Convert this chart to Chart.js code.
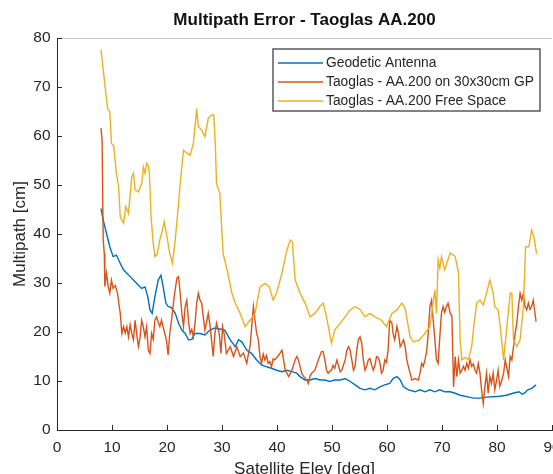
<!DOCTYPE html>
<html>
<head>
<meta charset="utf-8">
<script src="https://cdn.jsdelivr.net/npm/chart.js@4"></script>
<style>
  html, body { margin: 0; padding: 0; background: #fff; }
  canvas { display: block; }
</style>
</head>
<body>
<canvas id="mpChart" width="553" height="474"></canvas>
<script>
// multipath error vs elevation

const seriesNames = ['Geodetic Antenna', 'Taoglas - AA.200 on 30x30cm GP', 'Taoglas - AA.200 Free Space'];
const seriesColors = ['#0072BD', '#D95319', '#EDB120'];

const xTicks = [0, 10, 20, 30, 40, 50, 60, 70, 80, 90];
const yTicks = [0, 10, 20, 30, 40, 50, 60, 70, 80];

// Geodetic antenna
const geoElev = [8.0, 8.4, 9.0, 9.6, 10.2, 10.8, 11.5, 12.1, 12.7, 13.3, 13.9, 14.5, 15.4, 16.0, 16.5, 16.9, 17.3, 17.8, 18.4, 18.9,
  19.3, 19.8, 20.2, 20.8, 21.5, 22.1, 22.7, 23.3, 23.9, 24.5, 25.1, 26.0, 26.9, 27.8, 28.7, 29.6, 30.5, 31.5, 32.4, 33.0,
  33.6, 34.5, 35.4, 36.3, 37.2, 38.1, 39.0, 39.9, 40.9, 41.8, 42.7, 43.6, 44.2, 45.1, 46.0, 46.9, 47.8, 48.7, 49.6, 50.5,
  51.5, 52.4, 53.3, 54.2, 55.1, 56.0, 56.9, 57.8, 58.7, 59.6, 60.5, 61.1, 61.8, 62.4, 63.0, 63.9, 65.1, 66.0, 66.9, 67.8,
  68.7, 69.6, 70.5, 71.5, 72.4, 73.3, 74.5, 75.7, 76.9, 78.1, 79.3, 80.5, 81.7, 82.9, 84.0, 84.6, 85.0, 85.6, 86.3, 87.1];
const geoMp = [45.2, 42.9, 40.1, 37.4, 35.4, 35.7, 34.0, 32.7, 32.0, 31.3, 30.6, 29.9, 28.9, 29.2, 27.2, 24.5, 23.8, 27.2, 30.6, 31.6,
  29.2, 25.9, 25.2, 25.0, 23.8, 21.8, 20.4, 19.7, 18.4, 18.5, 19.7, 19.7, 19.4, 20.4, 20.8, 20.6, 20.4, 18.4, 17.0, 18.4,
  18.0, 16.3, 15.6, 14.3, 13.3, 12.9, 12.6, 12.2, 11.9, 12.2, 11.9, 11.6, 10.9, 10.2, 10.2, 10.5, 10.2, 10.2, 9.9, 10.2,
  10.2, 10.5, 9.9, 9.2, 8.5, 8.2, 8.5, 8.2, 8.8, 9.2, 9.5, 10.5, 10.9, 10.2, 8.8, 8.2, 7.8, 8.2, 7.8, 8.2,
  7.8, 8.2, 7.8, 7.8, 7.5, 7.1, 6.8, 6.5, 6.5, 6.7, 6.8, 6.9, 7.1, 7.5, 7.8, 7.3, 7.5, 8.2, 8.5, 9.2];

// AA.200 on 30x30cm ground plane
const gpElev = [8.0, 8.2, 8.4, 8.6, 8.7, 9.0, 9.3, 9.6, 9.9, 10.2, 10.6, 11.0, 11.5, 11.8, 12.1, 12.4, 12.7, 13.0, 13.3, 13.6,
  13.9, 14.2, 14.5, 14.8, 15.1, 15.4, 15.7, 16.0, 16.3, 16.6, 16.9, 17.2, 17.5, 17.8, 18.1, 18.4, 18.7, 19.0, 19.3, 19.6,
  19.9, 20.2, 20.5, 20.9, 21.3, 21.8, 22.1, 22.4, 22.7, 23.0, 23.3, 23.6, 23.9, 24.2, 24.5, 24.8, 25.1, 25.4, 25.7, 26.0,
  26.3, 26.6, 26.9, 27.2, 27.5, 27.8, 28.1, 28.4, 28.7, 29.0, 29.5, 29.8, 30.1, 30.4, 30.8, 31.5, 32.1, 32.7, 33.3, 33.9,
  34.5, 34.8, 35.1, 35.4, 35.7, 36.0, 36.3, 36.6, 36.9, 37.2, 37.5, 37.8, 38.1, 38.4, 38.7, 39.0, 39.3, 39.6, 40.1, 40.5,
  40.9, 41.2, 41.5, 41.8, 42.1, 42.4, 42.7, 43.3, 43.6, 43.9, 44.2, 44.5, 44.8, 45.4, 45.7, 46.0, 46.3, 46.9, 47.5, 48.1,
  48.4, 48.7, 49.0, 49.3, 49.6, 49.9, 50.2, 50.5, 50.9, 51.2, 51.5, 51.8, 52.1, 52.4, 52.7, 53.0, 53.3, 53.6, 53.9, 54.2,
  54.5, 54.8, 55.1, 55.4, 55.7, 56.0, 56.3, 56.6, 56.9, 57.2, 57.5, 57.8, 58.1, 58.4, 58.7, 59.0, 59.3, 59.6, 59.9, 60.2,
  60.5, 60.9, 61.1, 61.4, 61.8, 62.1, 62.4, 62.7, 63.0, 63.3, 63.6, 63.9, 64.2, 64.5, 65.1, 65.7, 66.0, 66.3, 66.6, 66.9,
  67.2, 67.5, 67.8, 68.1, 68.4, 68.7, 69.0, 69.3, 69.6, 69.9, 70.2, 70.5, 70.8, 71.1, 71.5, 71.8, 72.1, 72.4, 72.7, 73.0,
  73.3, 73.6, 73.9, 74.2, 74.5, 74.8, 75.1, 75.4, 75.7, 76.0, 76.3, 76.6, 76.9, 77.2, 77.5, 77.8, 78.1, 78.4, 78.7, 79.0,
  79.3, 79.6, 79.9, 80.2, 80.5, 80.9, 81.2, 81.5, 81.8, 82.1, 82.4, 82.7, 83.0, 83.3, 83.6, 83.9, 84.2, 84.5, 84.8, 85.1,
  85.4, 85.7, 86.0, 86.3, 86.6, 86.9, 87.1];
const gpMp = [61.6, 59.0, 38.8, 36.0, 29.3, 32.0, 29.3, 27.9, 30.6, 28.9, 29.5, 27.9, 23.8, 19.7, 21.1, 19.8, 21.1, 19.0, 21.5, 19.7,
  18.4, 22.4, 19.5, 17.0, 18.8, 22.4, 21.0, 19.0, 21.1, 16.3, 15.6, 19.7, 18.5, 22.4, 23.1, 22.0, 21.1, 22.4, 21.0, 19.7,
  18.3, 15.3, 19.7, 23.1, 27.2, 31.0, 31.3, 27.9, 23.8, 21.1, 25.2, 26.5, 22.4, 19.7, 20.5, 19.0, 21.8, 25.9, 27.9, 26.5,
  25.9, 23.1, 20.4, 22.0, 23.8, 21.5, 18.4, 15.0, 19.5, 21.8, 19.7, 15.6, 21.1, 19.5, 15.6, 17.0, 15.0, 17.0, 15.0, 15.7,
  13.6, 15.5, 17.0, 21.1, 25.2, 22.4, 19.7, 18.5, 15.0, 13.6, 15.5, 14.3, 15.2, 13.6, 14.0, 12.9, 14.5, 14.3, 15.0, 15.6,
  16.3, 14.3, 12.2, 11.6, 10.9, 11.5, 12.2, 14.3, 15.0, 14.3, 12.9, 11.6, 11.0, 10.2, 9.5, 11.0, 11.6, 12.2, 14.3, 16.0,
  16.0, 14.3, 12.2, 11.6, 12.0, 12.2, 13.2, 12.6, 14.3, 13.0, 11.9, 12.2, 13.3, 14.3, 16.3, 17.0, 16.3, 14.3, 12.2, 13.0,
  16.3, 18.4, 19.0, 17.8, 14.3, 12.2, 13.0, 14.3, 14.6, 13.3, 12.2, 13.2, 15.0, 14.8, 13.8, 11.6, 12.2, 14.3, 13.8, 16.3,
  22.4, 21.8, 19.7, 18.4, 21.1, 19.7, 17.0, 17.6, 18.4, 17.0, 14.3, 12.9, 11.6, 10.2, 10.5, 10.2, 11.6, 13.6, 13.0, 14.3,
  16.0, 19.7, 25.2, 26.5, 22.4, 18.4, 14.3, 13.6, 19.0, 23.8, 25.2, 24.0, 25.2, 25.9, 23.8, 23.3, 8.8, 15.0, 10.9, 14.3,
  11.6, 12.2, 13.0, 12.2, 13.6, 12.6, 14.3, 13.0, 13.5, 12.2, 11.6, 13.6, 11.6, 8.2, 5.4, 8.8, 11.6, 7.5, 10.9, 9.5,
  11.6, 8.2, 10.0, 12.2, 8.9, 10.2, 11.6, 14.3, 12.6, 10.9, 15.0, 14.3, 17.0, 19.7, 21.8, 25.2, 27.9, 26.5, 27.9, 25.2,
  24.5, 25.9, 24.6, 25.2, 26.5, 23.8, 22.1];

// AA.200 free space
const fsElev = [8.0, 8.5, 9.2, 9.6, 9.9, 10.3, 10.8, 11.2, 11.5, 12.1, 12.5, 13.0, 13.6, 13.9, 14.2, 14.8, 15.4, 15.7, 16.0, 16.3,
  16.6, 16.8, 17.1, 17.5, 17.8, 18.2, 18.7, 19.1, 19.5, 19.9, 20.5, 21.0, 21.5, 22.0, 22.4, 23.0, 23.6, 24.2, 24.8, 25.4,
  25.7, 26.3, 26.9, 27.5, 28.1, 28.5, 28.8, 29.0, 29.6, 30.2, 30.8, 31.8, 32.4, 33.3, 34.2, 35.1, 36.0, 36.9, 37.8, 38.6,
  39.3, 39.9, 40.9, 41.8, 42.4, 42.8, 43.3, 44.2, 45.1, 46.0, 46.9, 47.8, 48.4, 49.0, 49.9, 50.5, 51.5, 52.4, 53.3, 54.2,
  55.1, 56.0, 56.9, 57.8, 59.0, 59.9, 60.9, 61.8, 62.7, 63.3, 64.2, 64.8, 65.8, 66.9, 67.8, 68.4, 68.7, 69.0, 69.3, 69.6,
  69.9, 70.5, 71.0, 71.5, 72.4, 73.0, 73.3, 73.6, 74.2, 74.8, 75.4, 75.7, 76.3, 76.9, 77.5, 78.1, 78.7, 79.3, 79.6, 80.2,
  80.6, 81.2, 81.8, 82.4, 82.7, 83.0, 83.6, 84.2, 84.8, 85.2, 85.8, 86.3, 86.7, 87.2];
const fsMp = [77.6, 72.5, 65.6, 65.0, 58.5, 58.0, 52.4, 49.7, 43.5, 42.2, 45.6, 44.2, 51.7, 52.4, 49.0, 48.6, 50.3, 53.7, 52.4, 54.4,
  54.0, 52.4, 43.5, 38.1, 35.4, 35.8, 38.8, 40.5, 42.5, 40.1, 36.0, 34.0, 38.8, 45.0, 50.3, 57.1, 56.5, 56.1, 58.5, 65.6,
  61.9, 61.2, 59.9, 63.6, 64.3, 64.3, 58.0, 50.3, 48.3, 36.0, 33.3, 27.9, 25.9, 23.8, 21.1, 22.4, 23.8, 29.2, 29.9, 29.2,
  26.5, 27.9, 32.0, 36.7, 38.8, 38.4, 30.6, 27.9, 25.9, 23.1, 23.8, 25.2, 25.9, 23.1, 17.7, 20.4, 21.8, 23.1, 24.5, 25.2,
  24.6, 23.1, 23.8, 23.1, 22.4, 21.1, 23.8, 24.5, 25.9, 24.8, 19.0, 18.0, 18.3, 19.7, 21.1, 26.0, 28.6, 23.8, 34.7, 33.0,
  35.4, 32.7, 34.5, 36.1, 35.4, 32.0, 18.4, 14.3, 14.8, 14.3, 17.0, 20.4, 25.9, 26.5, 25.5, 27.9, 30.6, 28.0, 25.2, 24.5,
  21.0, 14.3, 21.1, 27.9, 27.9, 18.4, 17.0, 18.4, 25.2, 37.4, 37.4, 40.8, 39.5, 36.0];

const FONT = "'Liberation Sans', Arial, sans-serif";
const AXIS_COLOR = '#262626';

function toPoints(xs, ys) {
    return xs.map((x, i) => ({ x: x, y: ys[i] }));
}

// MATLAB style: ticks pointing into the box, light top edge, legend box inside the axes
const matlabAxes = {
    id: 'matlabAxes',
    afterDraw(chart) {
        const ctx = chart.ctx;
        const area = chart.chartArea;
        const xs = chart.scales.x;
        const ys = chart.scales.y;
        ctx.save();

        ctx.strokeStyle = '#c8c8c8';
        ctx.lineWidth = 1;
        ctx.beginPath();
        ctx.moveTo(area.left, area.top + 0.5);
        ctx.lineTo(area.right, area.top + 0.5);
        ctx.stroke();

        ctx.strokeStyle = AXIS_COLOR;
        ctx.beginPath();
        xTicks.forEach(v => {
            const px = Math.round(xs.getPixelForValue(v)) + 0.5;
            ctx.moveTo(px, area.bottom);
            ctx.lineTo(px, area.bottom - 5);
        });
        yTicks.forEach(v => {
            const py = Math.round(ys.getPixelForValue(v)) + 0.5;
            ctx.moveTo(area.left, py);
            ctx.lineTo(area.left + 5, py);
        });
        ctx.stroke();

        // legend
        const lx = 273, ly = 49, lw = 267, lh = 62;
        ctx.fillStyle = '#fff';
        ctx.fillRect(lx, ly, lw, lh);
        ctx.strokeStyle = '#5a5a5a';
        ctx.lineWidth = 1.5;
        ctx.strokeRect(lx, ly, lw, lh);
        ctx.font = '13.8px ' + FONT;
        ctx.textBaseline = 'middle';
        ctx.fillStyle = AXIS_COLOR;
        chart.data.datasets.forEach((ds, i) => {
            const y = ly + 14 + i * 19;
            ctx.strokeStyle = ds.borderColor;
            ctx.lineWidth = 1.5;
            ctx.beginPath();
            ctx.moveTo(lx + 5, y);
            ctx.lineTo(lx + 50, y);
            ctx.stroke();
            ctx.fillText(ds.label, lx + 53, y);
        });
        ctx.restore();
    }
};

document.addEventListener('DOMContentLoaded', function() {
    const ctx = document.getElementById('mpChart').getContext('2d');

    new Chart(ctx, {
        type: 'line',
        data: {
            datasets: [{
                    label: seriesNames[0],
                    data: toPoints(geoElev, geoMp),
                    borderColor: seriesColors[0],
                    order: 3
                },
                {
                    label: seriesNames[1],
                    data: toPoints(gpElev, gpMp),
                    borderColor: seriesColors[1],
                    order: 2
                },
                {
                    label: seriesNames[2],
                    data: toPoints(fsElev, fsMp),
                    borderColor: seriesColors[2],
                    order: 1
                }
            ]
        },
        options: {
            responsive: false,
            animation: false,
            maintainAspectRatio: false,
            layout: {
                padding: { top: 0, right: 1, bottom: 0, left: 0 }
            },
            elements: {
                point: { radius: 0 },
                line: { borderWidth: 1.4, tension: 0 }
            },
            plugins: {
                legend: { display: false },
                tooltip: { enabled: false },
                title: {
                    display: true,
                    fullSize: false,
                    text: 'Multipath Error - Taoglas AA.200',
                    color: '#111',
                    font: { family: FONT, size: 17, weight: 'bold' },
                    padding: { top: 10, bottom: 7.6 }
                }
            },
            scales: {
                x: {
                    type: 'linear',
                    min: 0,
                    max: 90,
                    grid: { display: false, drawTicks: false },
                    border: { color: AXIS_COLOR, width: 1 },
                    ticks: {
                        stepSize: 10,
                        padding: 8,
                        color: AXIS_COLOR,
                        font: { family: FONT, size: 15.5 }
                    },
                    title: {
                        display: true,
                        text: 'Satellite Elev [deg]',
                        color: AXIS_COLOR,
                        font: { family: FONT, size: 17 },
                        padding: { top: 0, bottom: -6 }
                    },
                    afterFit(scale) {
                        scale.height = 44;
                        scale.paddingLeft = 0;
                        scale.paddingRight = 0;
                    }
                },
                y: {
                    min: 0,
                    max: 80,
                    grid: { display: false, drawTicks: false },
                    border: { color: AXIS_COLOR, width: 1 },
                    ticks: {
                        stepSize: 10,
                        padding: 6.5,
                        color: AXIS_COLOR,
                        font: { family: FONT, size: 15.5 }
                    },
                    title: {
                        display: true,
                        text: 'Multipath [cm]',
                        color: AXIS_COLOR,
                        font: { family: FONT, size: 17 },
                        padding: { top: 10, bottom: 0 }
                    },
                    afterFit(scale) {
                        scale.width = 57;
                        scale.paddingTop = 0;
                        scale.paddingBottom = 0;
                    }
                }
            }
        },
        plugins: [matlabAxes]
    });
});
</script>
</body>
</html>
